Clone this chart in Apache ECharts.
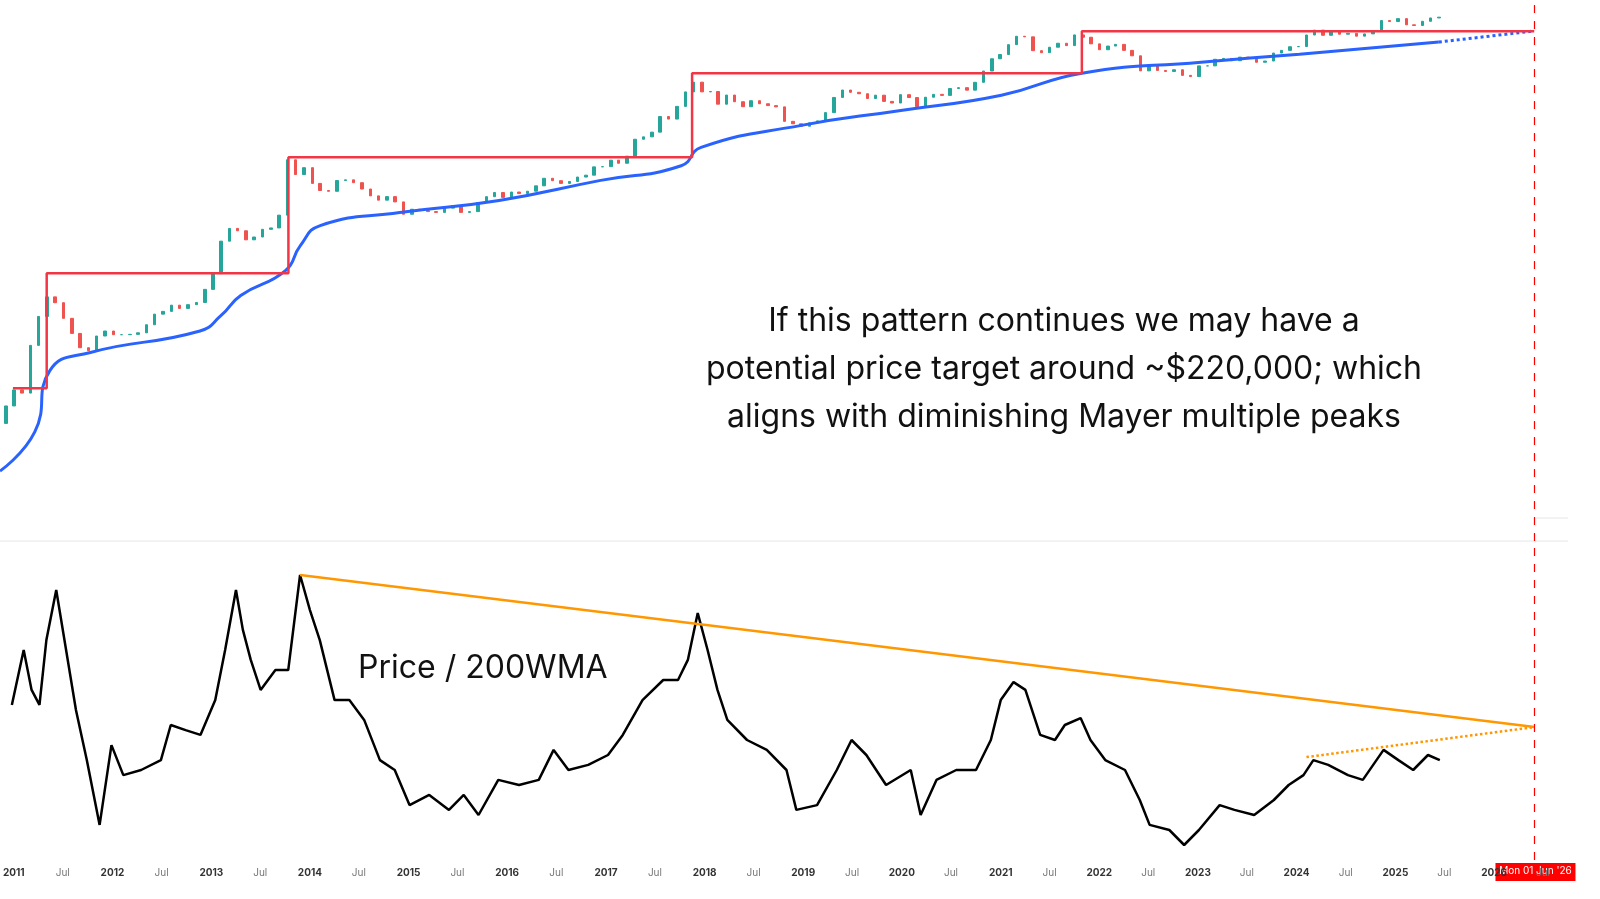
<!DOCTYPE html>
<html>
<head>
<meta charset="utf-8">
<script src="https://cdn.jsdelivr.net/npm/echarts@6/dist/echarts.min.js"></script>
<style>html,body{margin:0;padding:0;background:#fff;overflow:hidden;}#chart{width:100vw;height:100vh;}</style>
</head>
<body>
<div id="chart"></div>
<script>
// monthly closes, Jan 2011 .. Jun 2025
var monthlyClose = [
  0.52,0.86,0.78,3.5,8.7,16.1,13.4,8.2,5.1,3.25,2.97,4.7,
  5.5,4.9,4.9,4.95,5.2,6.7,9.35,10.2,12.4,11.2,12.6,13.5,
  20.4,33.4,93,139,129,97,106,135,141,211,1205,757,
  939,573,458,447,627,641,586,480,387,338,378,320,
  217,254,244,236,230,263,284,230,236,314,377,430,
  369,437,416,448,531,673,624,573,609,700,742,964,
  970,1190,1080,1350,2300,2480,2875,4700,4340,6470,10200,13860,
  10220,10330,6930,9240,7490,6400,7730,7030,6630,6370,4040,3740,
  3460,3850,4100,5320,8570,10820,10080,9630,8290,9200,7570,7190,
  9350,8540,6430,8630,9450,9140,11350,11660,10780,13800,19700,28950,
  33110,45140,58800,57750,37330,35040,41630,47170,43820,61320,57000,46300,
  38480,43190,45540,37710,31790,19780,23300,20050,19420,20490,17170,16550,
  23140,23150,28480,29270,27220,30480,29230,25940,26970,34670,37720,42270,
  42580,61200,71300,60640,67500,62680,64620,58970,63330,70220,96400,93430,
  102400,84370,82550,94200,104600,107200
];
var firstOpen = 0.3;

// 200 week moving average [year, price]
var wmaPoints = [
  [2010.98,0.067],[2011.33,0.23],[2011.48,1.57],[2011.89,2.8],[2012.99,5.5],[2013.2,8.9],
  [2013.4,16.8],[2013.85,36.8],[2014.0,81],[2014.2,152],[2015.0,229],[2016.0,335],
  [2017.02,630],[2017.83,1000],[2018.03,1780],[2019.04,3560],[2020.04,5700],[2021.05,9200],
  [2021.86,18400],[2023.06,26000],[2024.05,33500],[2025.45,49000]
];
var wmaProjection = [[2025.45,49000],[2026.39,69000]];

// previous all time high steps [year, price]
var athSteps = [
  [2011.11,0.91],[2011.45,0.91],[2011.45,34],[2013.88,34],[2013.88,1300],
  [2017.94,1300],[2017.94,18400],[2021.86,18400],[2021.86,69000],[2026.41,69000]
];

// price / 200WMA oscillator [year, value]
var ratioPoints = [
  [2010.98,5.17],[2011.10,7.0],[2011.18,5.67],[2011.26,5.17],[2011.33,7.33],[2011.43,9.0],
  [2011.53,7.0],[2011.63,5.0],[2011.74,3.33],[2011.87,1.17],[2011.99,3.83],[2012.11,2.83],
  [2012.29,3.0],[2012.49,3.33],[2012.59,4.5],[2012.74,4.33],[2012.89,4.17],[2013.04,5.33],
  [2013.14,7.0],[2013.25,9.0],[2013.32,7.67],[2013.40,6.67],[2013.50,5.67],[2013.65,6.33],
  [2013.78,6.33],[2013.90,9.5],[2014.00,8.33],[2014.10,7.33],[2014.25,5.33],[2014.40,5.33],
  [2014.55,4.67],[2014.71,3.33],[2014.86,3.0],[2015.01,1.83],[2015.21,2.17],[2015.41,1.67],
  [2015.56,2.17],[2015.71,1.5],[2015.91,2.67],[2016.12,2.5],[2016.32,2.67],[2016.47,3.67],
  [2016.62,3.0],[2016.82,3.17],[2017.02,3.5],[2017.17,4.17],[2017.37,5.33],[2017.58,6.0],
  [2017.73,6.0],[2017.83,6.67],[2017.93,8.23],[2018.03,7.0],[2018.13,5.67],[2018.23,4.67],
  [2018.43,4.0],[2018.63,3.67],[2018.83,3.0],[2018.93,1.67],[2019.14,1.83],[2019.34,3.0],
  [2019.49,4.0],[2019.64,3.5],[2019.84,2.5],[2020.09,3.0],[2020.19,1.5],[2020.35,2.67],
  [2020.55,3.0],[2020.75,3.0],[2020.90,4.0],[2021.00,5.33],[2021.13,5.93],[2021.25,5.67],
  [2021.40,4.17],[2021.55,4.0],[2021.65,4.5],[2021.81,4.73],[2021.91,4.0],[2022.06,3.33],
  [2022.26,3.0],[2022.41,2.0],[2022.51,1.17],[2022.71,1.0],[2022.86,0.5],[2023.01,1.0],
  [2023.22,1.83],[2023.37,1.67],[2023.57,1.5],[2023.77,2.0],[2023.92,2.5],[2024.07,2.83],
  [2024.17,3.33],[2024.32,3.17],[2024.52,2.83],[2024.67,2.67],[2024.88,3.67],[2025.03,3.33],
  [2025.18,3.0],[2025.33,3.5],[2025.45,3.33]
];
var peakTrend = [[2013.90,9.5],[2026.41,4.43]];
var riseTrend = [[2024.10,3.43],[2026.41,4.43]];
var markerYear = 2026.41;

function yr(y){
    var Y = Math.floor(y);
    var s = Date.UTC(Y,0,1), e = Date.UTC(Y+1,0,1);
    return s + (y - Y) * (e - s);
}
function lg(v){ return Math.log10(v); }

var candles = [];
var prev = firstOpen;
for(var i=0;i<monthlyClose.length;i++){
    var c = monthlyClose[i];
    var t = Date.UTC(2011 + Math.floor(i/12), i%12, 15);
    candles.push([t, lg(prev), lg(c), lg(Math.min(prev,c)), lg(Math.max(prev,c))]);
    prev = c;
}
function toLogLine(arr){ return arr.map(function(p){ return [yr(p[0]), lg(p[1])]; }); }
function toLine(arr){ return arr.map(function(p){ return [yr(p[0]), p[1]]; }); }

var xMin = yr(2010.98), xMax = yr(2026.75);

var chart = echarts.init(document.getElementById('chart'));
var option = {
    animation:false,
    backgroundColor:'#fff',
    grid:[
        {left:0,right:32,top:0,height:541},
        {left:0,right:32,top:545,height:315}
    ],
    xAxis:[
        {type:'time',gridIndex:0,min:xMin,max:xMax,show:false},
        {type:'time',gridIndex:1,min:xMin,max:xMax,splitNumber:32,
         axisLine:{show:false},axisTick:{show:false},splitLine:{show:false},
         axisLabel:{margin:8,fontSize:10,color:'#777',fontFamily:'Inter',hideOverlap:false,
            formatter:function(v){
                var d = new Date(v);
                if(d.getUTCMonth()==0) return '{y|'+d.getUTCFullYear()+'}';
                if(d.getUTCMonth()==6) return 'Jul';
                return '';
            },
            rich:{y:{fontSize:10,fontWeight:'bold',color:'#333',fontFamily:'Inter'}}
         }}
    ],
    yAxis:[
        {type:'value',gridIndex:0,min:-2.13,max:5.265,show:false},
        {type:'value',gridIndex:1,min:0,max:10.5,show:false}
    ],
    series:[
        {type:'candlestick',xAxisIndex:0,yAxisIndex:0,data:candles,barMaxWidth:3,
         encode:{x:0,y:[1,2,3,4]},
         itemStyle:{color:'#26a69a',color0:'#ef5350',borderColor:'#26a69a',borderColor0:'#ef5350'}},
        {type:'line',xAxisIndex:0,yAxisIndex:0,data:toLogLine(wmaPoints),smooth:true,showSymbol:false,
         lineStyle:{color:'#2962ff',width:3}},
        {type:'line',xAxisIndex:0,yAxisIndex:0,data:toLogLine(wmaProjection),showSymbol:false,
         lineStyle:{color:'#2962ff',width:3,type:'dotted'}},
        {type:'line',xAxisIndex:0,yAxisIndex:0,data:toLogLine(athSteps),showSymbol:false,
         lineStyle:{color:'#f23645',width:2.5}},
        {type:'line',xAxisIndex:1,yAxisIndex:1,data:toLine(ratioPoints),showSymbol:false,
         lineStyle:{color:'#000',width:2.5},
         markLine:{symbol:'none',silent:true,label:{show:false},
            lineStyle:{color:'#f00',type:[8,8],width:1.2},
            data:[{xAxis:yr(markerYear)}]}},
        {type:'line',xAxisIndex:1,yAxisIndex:1,data:toLine(peakTrend),showSymbol:false,
         lineStyle:{color:'#ff9800',width:2.5}},
        {type:'line',xAxisIndex:1,yAxisIndex:1,data:toLine(riseTrend),showSymbol:false,
         lineStyle:{color:'#ff9800',width:2.5,type:'dotted'}},
        {type:'line',xAxisIndex:0,yAxisIndex:0,data:[],
         markLine:{symbol:'none',silent:true,label:{show:false},
            lineStyle:{color:'#f00',type:[8,8],width:1.2},
            data:[{xAxis:yr(markerYear)}]}}
    ],
    graphic:[
        {type:'line',shape:{x1:0,y1:541,x2:1568,y2:541},style:{stroke:'#e6e6e6',lineWidth:1}},
        {type:'line',shape:{x1:1535,y1:518,x2:1568,y2:518},style:{stroke:'#e6e6e6',lineWidth:1}},
        {type:'text',x:1064,y:297,
         style:{text:'If this pattern continues we may have a\npotential price target around ~$220,000; which\naligns with diminishing Mayer multiple peaks',
                font:'32px Inter',fill:'#111',align:'center',lineHeight:48}},
        {type:'text',x:358,y:652,
         style:{text:'Price / 200WMA',font:'32px Inter',fill:'#111'}}
    ]
};
chart.setOption(option);

var px = chart.convertToPixel({xAxisIndex:1}, yr(markerYear));
chart.setOption({graphic:option.graphic.concat([
    {type:'rect',shape:{x:px-39,y:863,width:80,height:18},style:{fill:'#f00'}},
    {type:'text',x:px+1,y:866,style:{text:"Mon 01 Jun '26",font:'10px Inter',fill:'#fff',align:'center'}}
])});
</script>
</body>
</html>
